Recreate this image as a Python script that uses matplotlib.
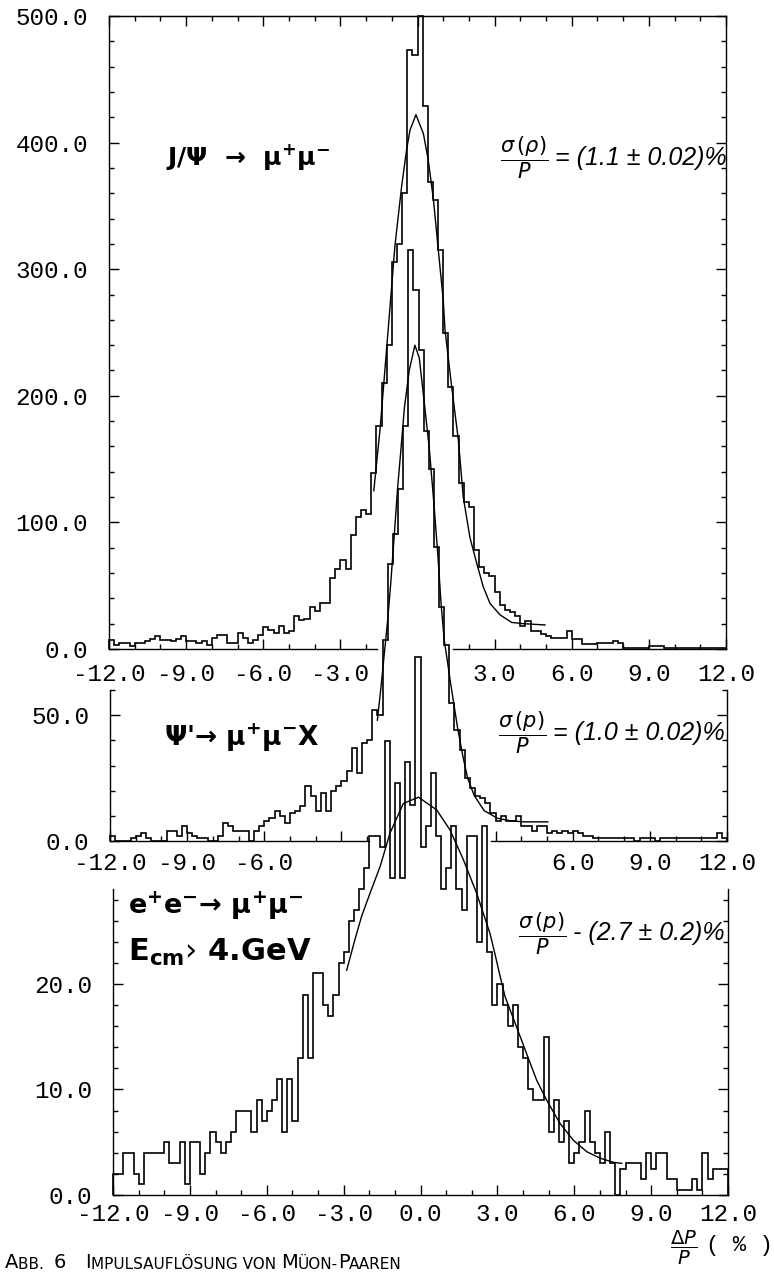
import numpy as np
import matplotlib
matplotlib.use("Agg")
import matplotlib.pyplot as plt
from matplotlib.ticker import MultipleLocator, FixedLocator, FixedFormatter

# -------- CONFIG --------
W, H, DPI = 774, 1276, 100
OUT = "out.png"
MONO = "Liberation Mono"
SANS = "DejaVu Sans"
HAND = ["Liberation Sans Narrow", "Liberation Sans"]
# ------------------------

# 120 bins of 0.2 % between -12 and 12
bin_edges = np.linspace(-12.0, 12.0, 121)

jpsi_counts = [
    7, 3, 5, 5, 2, 5, 5, 6, 8, 10, 7, 7, 6, 8, 10, 6, 6, 5, 6, 3,
    9, 11, 11, 5, 5, 13, 9, 5, 7, 11, 17, 15, 13, 18, 13, 14, 26, 23, 24, 33,
    30, 36, 36, 56, 63, 70, 63, 90, 104, 110, 107, 139, 176, 210, 240,
    306, 320, 360, 473, 469, 500, 429, 369, 355, 315,
    250, 207, 168, 131, 116, 112,
    78, 65, 60, 58, 45, 35, 31, 29, 26, 18, 22, 14, 14, 12, 10, 9, 9, 9,
    14, 8, 8, 4, 4, 4, 5, 5, 5, 6, 5, 1, 1, 1, 1, 1, 2, 2, 2, 1,
    1, 1, 1, 1, 1, 1, 1, 1, 1, 1, 1,
]
psi2_counts = [
    2, 0, 0, 0, 1, 2, 3, 1, 0, 0, 0, 4, 4, 2, 6, 3, 2, 1, 1, 0,
    0, 2, 7, 6, 4, 4, 4, 0, 4, 6, 8, 9, 12, 10, 7, 11, 12, 14, 22, 18,
    12, 19, 12, 20, 22, 24, 28, 37, 27, 39, 40, 52, 50,
    80, 110, 122, 140, 165, 235, 219, 195, 163, 148, 117, 93, 78,
    55, 44, 36, 25, 21, 18, 17, 15, 11, 8, 10, 8, 8, 10, 6, 6, 4, 6, 6, 3,
    4, 3, 4, 3, 4, 3, 2,
    2, 1, 1, 1, 1, 1, 1, 1, 1, 0, 1, 1, 1, 0, 1, 1, 1, 1, 1, 1,
    1, 1, 1, 1, 1, 3, 1,
]
ee_counts = [
    2, 2, 4, 4, 2, 1, 4, 4, 4, 4, 5, 3, 3, 5, 1, 5, 5, 2, 4, 6,
    5, 4, 5, 6, 8, 8, 8, 6, 9, 7, 8, 9, 11, 6, 11, 7, 13, 19, 13, 21,
    21, 18, 17, 19, 22,
    23, 26, 27, 29, 31, 34, 34, 33, 43, 30, 39, 30, 41, 37, 51, 33, 35, 40, 34, 29,
    31, 35, 29, 27, 34, 34, 24, 35,
    23, 18, 20, 18, 16, 18, 14, 13, 10, 9, 9, 15, 6, 9, 5, 7, 3, 4, 5, 8,
    5, 4, 3, 6, 3, 0, 2.5, 3, 3, 3, 1.5, 4, 2.5, 4, 4, 1.5, 1.5, 0.5, 0.5, 0.5,
    1.5, 0.5, 4, 1.5, 2.5, 2.5, 2.5,
]

# fitted curves
jpsi_fit_x = [-1.70, -1.45, -1.25, -1.07, -0.88, -0.62, -0.42, -0.29, -0.06, 0.23, 0.42,
              0.62, 0.81, 1.00, 1.07, 1.33, 1.59, 1.78, 2.04, 2.30, 2.56, 2.82, 3.21,
              3.66, 4.12, 4.96]
jpsi_fit_y = [125, 175, 225, 270, 318, 365, 395, 410, 422, 407, 386,
              355, 315, 276, 252, 207, 165, 120, 88, 68, 49, 36, 27,
              21, 20, 19]
psi2_fit_x = [-1.60, -1.45, -1.33, -1.20, -1.07, -0.94, -0.81, -0.68, -0.55, -0.36, -0.14,
              0.03, 0.23, 0.42, 0.61, 0.75, 0.88, 1.00, 1.26, 1.52, 1.72, 1.91, 2.17,
              2.56, 3.08, 3.60, 4.12, 5.03]
psi2_fit_y = [48, 62, 74.5, 87.7, 103.6, 122, 140.6, 156, 172, 187, 197,
              192, 173.7, 156, 132.7, 114, 94, 80, 62, 45, 34, 25, 18,
              12, 9, 8, 7.6, 7.6]
ee_fit_x = [-2.88, -2.56, -2.30, -1.97, -1.58, -1.19, -0.67, -0.08, 0.63, 1.15, 1.67,
            2.19, 2.71, 2.91, 3.10, 3.30, 3.69, 4.14, 4.53, 4.92, 5.44, 5.96, 6.49,
            7.00, 7.52, 7.85]
ee_fit_y = [21.3, 24.2, 26.4, 28.6, 31.1, 34.3, 37.1, 37.7, 36.5, 34.6, 31.8,
            28.6, 24.8, 22.8, 20.8, 18.8, 16.3, 13.4, 10.9, 9.0, 6.8, 5.2, 4.1,
            3.5, 3.1, 3.0]

x_major = [-12, -9, -6, -3, 0, 3, 6, 9, 12]

plt.rcParams["font.family"] = MONO
plt.rcParams["axes.unicode_minus"] = False
plt.rcParams["mathtext.fontset"] = "dejavusans"

fig = plt.figure(figsize=(W / DPI, H / DPI), dpi=DPI)


def box(l, t, r, b):
    return [l / W, 1 - b / H, (r - l) / W, (b - t) / H]


def setup(ax, ymax, ymajor, yminor, xlabels, gap, xpad):
    ax.set_xlim(-12, 12)
    ax.set_ylim(0, ymax)
    ax.patch.set_visible(False)
    ax.spines["top"].set_visible(False)
    for s in ax.spines.values():
        s.set_linewidth(1.0)
    ax.yaxis.set_major_locator(MultipleLocator(ymajor))
    ax.yaxis.set_minor_locator(MultipleLocator(yminor))
    ax.yaxis.set_major_formatter(lambda v, p: f"{v:.1f}")
    keep = [v for v in x_major if not (gap[0] < v < gap[1])]
    ax.xaxis.set_major_locator(FixedLocator(keep))
    ax.xaxis.set_major_formatter(FixedFormatter([f"{v:.1f}" if v in xlabels else "" for v in keep]))
    ax.xaxis.set_minor_locator(FixedLocator(
        [v for v in range(-11, 12) if v % 3 and not (gap[0] < v < gap[1])]))
    ax.tick_params(which="both", direction="in", right=True, width=1.0, labelsize=17.5)
    ax.tick_params(which="major", length=7)
    ax.tick_params(which="minor", length=3.6)
    ax.tick_params(axis="y", pad=15)
    ax.tick_params(axis="x", pad=xpad)
    if gap[0] < gap[1]:
        # the bottom axis line is broken where the lower panel was pasted over
        ax.spines["bottom"].set_visible(False)
        lo = (gap[0] + 12) / 24
        hi = (gap[1] + 12) / 24
        ax.axhline(0, 0, lo, color="k", lw=1.0, clip_on=False)
        ax.axhline(0, hi, 1, color="k", lw=1.0, clip_on=False)


ax1 = fig.add_axes(box(109, 16, 726, 649))
ax2 = fig.add_axes(box(110, 690, 727, 841))
ax3 = fig.add_axes(box(113, 889, 728, 1195))

setup(ax1, 500, 100, 20, [-12, -9, -6, -3, 3, 6, 9, 12], (-1.58, 1.38), 10)
setup(ax2, 60, 50, 10, [-12, -9, -6, 6, 9, 12], (-1.93, 2.82), 8)
setup(ax3, 29, 10, 2, x_major, (0, 0), 6)

ax1.spines["top"].set_visible(True)
top = ax1.secondary_xaxis("top")
top.xaxis.set_major_locator(MultipleLocator(3))
top.xaxis.set_minor_locator(MultipleLocator(1))
top.tick_params(which="both", direction="in", labeltop=False, width=1.0)
top.tick_params(which="major", length=7)
top.tick_params(which="minor", length=3.6)

# histograms and fits
ax1.stairs(jpsi_counts, bin_edges, color="k", lw=1.2, clip_on=False)
ax1.plot(jpsi_fit_x, jpsi_fit_y, color="k", lw=1.0)
ax2.stairs(psi2_counts, bin_edges, color="k", lw=1.2, clip_on=False)
ax2.plot(psi2_fit_x, psi2_fit_y, color="k", lw=1.0, clip_on=False)
ax3.stairs(ee_counts, bin_edges, color="k", lw=1.2, clip_on=False)
ax3.plot(ee_fit_x, ee_fit_y, color="k", lw=1.0, clip_on=False)

# process labels
ax1.text(-9.8, 389, r"J/Ψ  →  μ$^{\mathbf{+}}$μ$^{\mathbf{-}}$", family=SANS,
         weight="bold", fontsize=18, va="center")
ax2.text(-9.9, 41, r"Ψ'→ μ$^{\mathbf{+}}$μ$^{\mathbf{-}}$X", family=SANS,
         weight="bold", fontsize=19, va="center")
ax3.text(-11.4, 27.4, r"e$^{\mathbf{+}}$e$^{\mathbf{-}}$→ μ$^{\mathbf{+}}$μ$^{\mathbf{-}}$",
         family=SANS, weight="bold", fontsize=19.5, va="center")
ax3.text(-11.4, 23.0, r"E$_{\mathbf{cm}}$› 4.GeV", family=SANS,
         weight="bold", fontsize=22, va="center")

# resolution labels
hand = dict(family=HAND, style="italic", fontsize=18)
for ax, x, y, sym, val in [(ax1, 3.2, 388, r"\rho", " = (1.1 ± 0.02)%"),
                           (ax2, 3.1, 43, "p", " = (1.0 ± 0.02)%"),
                           (ax3, 3.8, 24.8, "p", " - (2.7 ± 0.2)%")]:
    frac = ax.text(x, y, r"$\dfrac{\sigma\,(" + sym + r")}{P}$", fontsize=15, va="center")
    ax.annotate(val, xy=(1, 0.5), xycoords=frac, va="center", ha="left",
                annotation_clip=False, **hand)

# axis label
fig.text(684 / W, 1 - 1248 / H, r"$\dfrac{\Delta P}{P}$", fontsize=14, ha="center", va="center")
fig.text(706 / W, 1 - 1246 / H, "( % )", fontsize=16, ha="left", va="center")

# caption in small caps
big = dict(family=HAND[0:1] + ["DejaVu Sans"], fontsize=14)
small = dict(family=HAND[0:1] + ["DejaVu Sans"], fontsize=11)
first = fig.text(5 / W, 1 - 1268 / H, "A", va="baseline", **big)
prev = first
for s, style in [("BB.  ", small), ("6   ", big), ("I", big), ("MPULSAUFLÖSUNG VON ", small),
                 ("M", big), ("ÜON-", small), ("P", big), ("AAREN", small)]:
    prev = ax3.annotate(s, xy=(1, 0), xycoords=prev, va="bottom", ha="left",
                        annotation_clip=False, **style)

fig.savefig(OUT, dpi=DPI)
